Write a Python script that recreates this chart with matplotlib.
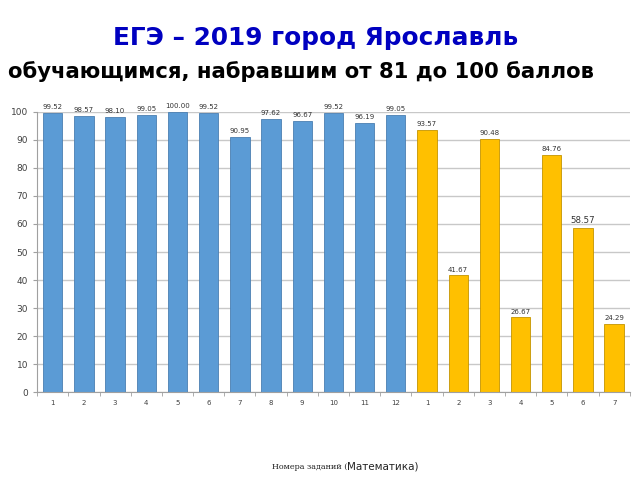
import matplotlib
matplotlib.use("Agg")
import matplotlib.pyplot as plt
import numpy as np

basic_labels = [str(i) for i in range(1, 13)]
basic_values = [99.52, 98.57, 98.10, 99.05, 100.00, 99.52, 90.95, 97.62, 96.67, 99.52, 96.19, 99.05]
profile_labels = [str(i) for i in range(1, 8)]
profile_values = [93.57, 41.67, 90.48, 26.67, 84.76, 58.57, 24.29]

BLUE = "#5b9bd5"
YELLOW = "#ffc000"

labels = basic_labels + profile_labels
values = basic_values + profile_values
colors = [BLUE] * len(basic_values) + [YELLOW] * len(profile_values)
edges = ["#4a7fb2"] * len(basic_values) + ["#c49400"] * len(profile_values)
x = np.arange(len(values))

fig = plt.figure(figsize=(6.4, 4.8), dpi=100)
ax = fig.add_axes([0.058, 0.183, 0.926, 0.584])

ax.yaxis.grid(True, color="#c8c8c8", linewidth=1.0)
ax.set_axisbelow(True)
bars = ax.bar(x, values, width=0.62, color=colors, edgecolor=edges, linewidth=0.6)

for i, (bar, val) in enumerate(zip(bars, values)):
    fs = 6.2 if i == 17 else 5.0
    ax.text(bar.get_x() + bar.get_width() / 2, val + 1.0, f"{val:.2f}",
            ha="center", va="bottom", fontsize=fs, color="#333333", clip_on=False)

ax.set_xlim(-0.5, len(values) - 0.5)
ax.set_ylim(0, 100)
ax.set_yticks(np.arange(0, 101, 10))
ax.tick_params(axis="y", labelsize=6.5, colors="#404040", length=3, color="#a0a0a0")
ax.set_xticks(x)
ax.set_xticklabels(labels)
ax.tick_params(axis="x", which="major", length=0, labelsize=5, colors="#404040", pad=6)
ax.set_xticks(np.arange(-0.5, len(values), 1.0), minor=True)
ax.tick_params(axis="x", which="minor", length=3, color="#a0a0a0")

for side in ["top", "right"]:
    ax.spines[side].set_visible(False)
for side in ["left", "bottom"]:
    ax.spines[side].set_color("#a0a0a0")
    ax.spines[side].set_linewidth(0.8)

fig.text(0.493, 0.92, "ЕГЭ – 2019 город Ярославль", ha="center", va="center",
         fontsize=17.8, fontweight="bold", color="#0000c0")
fig.text(0.012, 0.85, "обучающимся, набравшим от 81 до 100 баллов", ha="left", va="center",
         fontsize=15.2, fontweight="bold", color="black")

fig.text(0.542, 0.028, "Номера заданий (", ha="right", va="center",
         fontsize=5.8, family="DejaVu Serif", color="#222222")
fig.text(0.542, 0.028, "Математика)", ha="left", va="center",
         fontsize=7.5, color="#222222")

fig.savefig("out.png", dpi=100)
